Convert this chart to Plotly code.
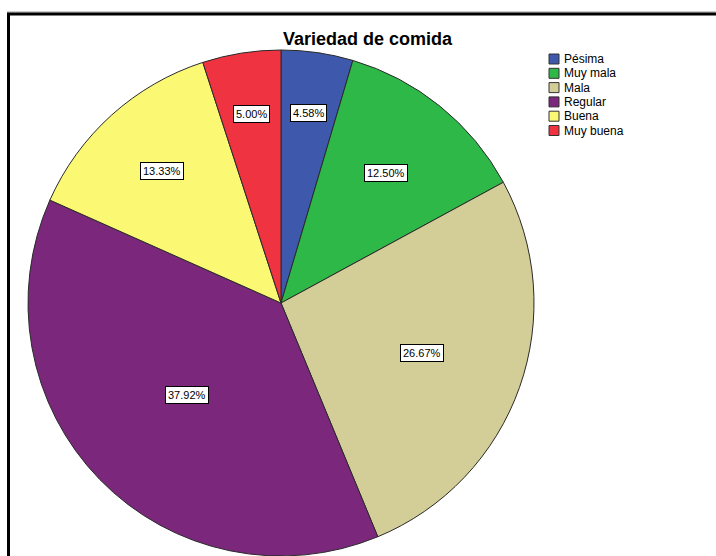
import math
import plotly.graph_objects as go

# Survey responses: "Variedad de comida" (n = 240)
categories = ["Pésima", "Muy mala", "Mala", "Regular", "Buena", "Muy buena"]
counts = [11, 30, 64, 91, 32, 12]
colors = ["#3E58AC", "#2EB848", "#D3CE97", "#7B287C", "#FBF873", "#EF3340"]

W, H = 716, 556
CX, CY, R = 281, 303, 253          # pie centre / radius in pixels (from top-left)
label_radius = [0.76, 0.66, 0.59, 0.52, 0.70, 0.755]  # label distance, fraction of radius

FONT = "Arial, Liberation Sans, Helvetica, sans-serif"


def px(x):
    return x / W


def py(y):
    return 1 - y / H


fig = go.Figure()
fig.add_trace(go.Pie(
    labels=categories,
    values=counts,
    sort=False,
    direction="clockwise",
    rotation=0,
    marker=dict(colors=colors, line=dict(color="#2a2a2a", width=1)),
    textinfo="none",
    hoverinfo="label+percent",
    showlegend=False,
    domain=dict(x=[px(CX - R), px(CX + R)], y=[py(CY + R), py(CY - R)]),
))

# Percentage labels in boxes, placed along each slice's mid-angle
total = sum(counts)
cum = 0
annotations = []
for cat, n, f in zip(categories, counts, label_radius):
    mid = (cum + n / 2) / total * 2 * math.pi
    cum += n
    lx = CX + f * R * math.sin(mid)
    ly = CY - f * R * math.cos(mid)
    annotations.append(dict(
        x=px(lx), y=py(ly), xref="paper", yref="paper",
        text=f"{n / total * 100:.2f}%", showarrow=False,
        font=dict(family=FONT, size=11, color="black"),
        bgcolor="white", bordercolor="black", borderwidth=1, borderpad=2,
        xanchor="center", yanchor="middle",
    ))

# Title
annotations.append(dict(
    x=px(367.5), y=py(39), xref="paper", yref="paper",
    text="<b>Variedad de comida</b>", showarrow=False,
    font=dict(family=FONT, size=18, color="black"),
    xanchor="center", yanchor="middle",
))

# Legend: swatches + names
shapes = []
LX, LY, STEP, SW = 549, 54, 14.3, 10
for i, (cat, col) in enumerate(zip(categories, colors)):
    top = LY + i * STEP
    shapes.append(dict(
        type="rect", xref="paper", yref="paper",
        x0=px(LX), x1=px(LX + SW), y0=py(top + SW), y1=py(top),
        fillcolor=col, line=dict(color="#333333", width=1),
    ))
    annotations.append(dict(
        x=px(LX + SW + 3), y=py(top + SW / 2), xref="paper", yref="paper",
        text=cat, showarrow=False,
        font=dict(family=FONT, size=12, color="black"),
        xanchor="left", yanchor="middle",
    ))

# Frame around the chart area
shapes.append(dict(
    type="line", xref="paper", yref="paper",
    x0=px(7), x1=px(W + 10), y0=py(12), y1=py(12),
    line=dict(color="#9a9a9a", width=1),
))
shapes.append(dict(
    type="rect", xref="paper", yref="paper",
    x0=px(8.5), x1=px(W + 20), y0=py(H + 20), y1=py(14),
    line=dict(color="black", width=3), fillcolor="rgba(0,0,0,0)",
))

fig.update_layout(
    width=W, height=H,
    margin=dict(l=0, r=0, t=0, b=0),
    paper_bgcolor="white", plot_bgcolor="white",
    annotations=annotations, shapes=shapes,
    showlegend=False,
)

fig.write_html("out.html")
